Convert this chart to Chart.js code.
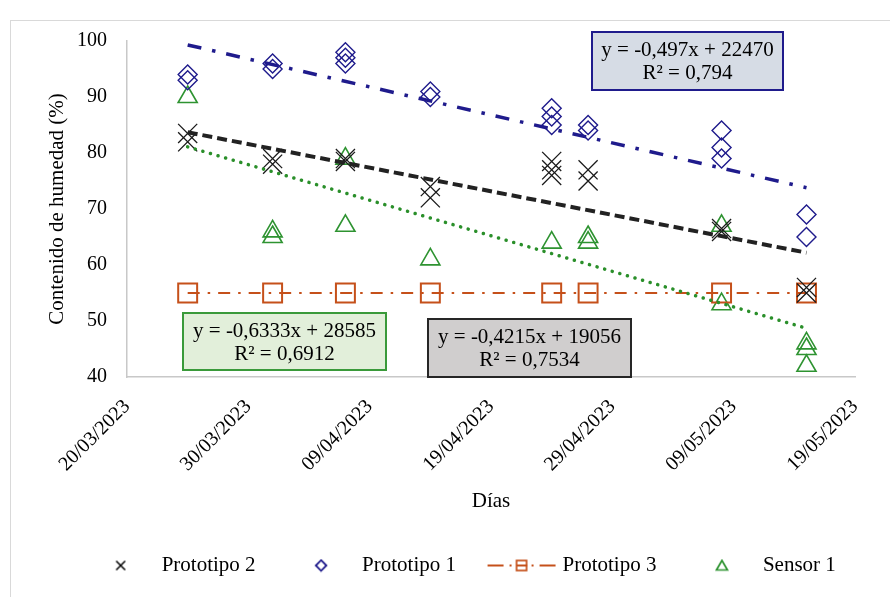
<!DOCTYPE html>
<html>
<head>
<meta charset="utf-8">
<script src="https://cdn.jsdelivr.net/npm/chart.js@4.4.0/dist/chart.umd.min.js"></script>
<style>
body{margin:0;overflow:hidden;background:#fff;}
#marco{position:absolute;left:10px;top:20px;width:1000px;height:1000px;border:1px solid #d9d9d9;}
#grafico{position:absolute;left:0;top:0;}
</style>
</head>
<body>
<div id="marco"></div>
<canvas id="grafico" width="890" height="597"></canvas>
<script>
const inicio = "20/03/2023";
const fin = "19/05/2023";
const fechas = ["25/03/2023","01/04/2023","07/04/2023","14/04/2023","24/04/2023","27/04/2023","08/05/2023","15/05/2023"];

// varios valores por fecha
const prototipo2 = [[83.5,82],[79,78],[79,78.5],[74,72],[78.5,77,76],[77,75],[66.5,66],[56,55]];
const prototipo1 = [[94,93],[96,95],[98,97,96],[91,90],[88,86.5,85],[85,84],[84,81,79],[69,65]];
const prototipo3 = [55,55,55,55,55,55,55,55];
const sensor1 = [[90],[66,65],[79,67],[61],[64],[65,64],[67,53],[46,45,42]];

// lineas de tendencia: valor en la primera y la ultima fecha
const tendencia1 = [99.3,73.8];
const tendencia2 = [83.7,62.2];
const tendenciaS = [81.1,48.7];

const ecuaciones = [
  ["y = -0,497x + 22470","R² = 0,794"],
  ["y = -0,6333x + 28585","R² = 0,6912"],
  ["y = -0,4215x + 19056","R² = 0,7534"]
];

const fuente = '"Liberation Serif", "Times New Roman", serif';
const azul = "#1F1B8C", naranja = "#C5501A", verde = "#2E9331", negro = "#1a1a1a";

function aFecha(f){
  const [d,m,a] = f.split("/").map(Number);
  return Date.UTC(a,m-1,d);
}
function dia(f){
  return Math.round((aFecha(f)-aFecha(inicio))/864e5);
}
function etiqueta(v){
  const d = new Date(aFecha(inicio)+v*864e5);
  const dd = String(d.getUTCDate()).padStart(2,"0");
  const mm = String(d.getUTCMonth()+1).padStart(2,"0");
  return dd+"/"+mm+"/"+d.getUTCFullYear();
}
function puntos(serie){
  return serie.flatMap((vals,i)=>[].concat(vals).map(v=>({x:dia(fechas[i]),y:v})));
}
function recta(t){
  return [{x:dia(fechas[0]),y:t[0]},{x:dia(fechas[fechas.length-1]),y:t[1]}];
}

// iconos pequeños de la leyenda
function icono(w,h,dibujar){
  const c = document.createElement("canvas");
  c.width = w; c.height = h;
  const g = c.getContext("2d");
  dibujar(g,w/2,h/2);
  return c;
}
const iconos = {
  "Prototipo 2": icono(14,14,(g,x,y)=>{
    g.strokeStyle="#000"; g.lineWidth=1.5; g.beginPath();
    g.moveTo(x-4.5,y-4.5); g.lineTo(x+4.5,y+4.5); g.moveTo(x+4.5,y-4.5); g.lineTo(x-4.5,y+4.5); g.stroke();
  }),
  "Prototipo 1": icono(14,14,(g,x,y)=>{
    g.strokeStyle=azul; g.lineWidth=1.8; g.beginPath();
    g.moveTo(x,y-5.3); g.lineTo(x+5.3,y); g.lineTo(x,y+5.3); g.lineTo(x-5.3,y); g.closePath(); g.stroke();
  }),
  "Prototipo 3": icono(70,14,(g,x,y)=>{
    g.strokeStyle=naranja; g.lineWidth=2; g.beginPath();
    g.moveTo(1,y); g.lineTo(17,y); g.moveTo(23,y); g.lineTo(25,y);
    g.moveTo(30,y); g.lineTo(41,y);
    g.moveTo(45,y); g.lineTo(47,y); g.moveTo(53,y); g.lineTo(69,y); g.stroke();
    g.lineWidth=1.7; g.strokeRect(x-5,y-5,10,10);
  }),
  "Sensor 1": icono(14,14,(g,x,y)=>{
    g.strokeStyle=verde; g.lineWidth=1.7; g.beginPath();
    g.moveTo(x,y-5); g.lineTo(x+5.5,y+4.5); g.lineTo(x-5.5,y+4.5); g.closePath(); g.stroke();
  })
};

const cajas = [
  {x:592,y:32,w:191,h:58,fondo:"#D6DCE5",borde:azul},
  {x:183,y:313,w:203,h:57,fondo:"#E2EFDA",borde:"#3A9A3A"},
  {x:428,y:319,w:203,h:58,fondo:"#D0CECE",borde:"#262626"}
];

const etiquetasTendencia = {
  id:"etiquetasTendencia",
  afterDraw(chart){
    const ctx = chart.ctx;
    ctx.save();
    cajas.forEach((c,i)=>{
      ctx.fillStyle=c.fondo; ctx.fillRect(c.x,c.y,c.w,c.h);
      ctx.strokeStyle=c.borde; ctx.lineWidth=2; ctx.strokeRect(c.x,c.y,c.w,c.h);
      ctx.fillStyle="#000"; ctx.font="21px "+fuente;
      ctx.textAlign="center"; ctx.textBaseline="middle";
      ctx.fillText(ecuaciones[i][0],c.x+c.w/2,c.y+18);
      ctx.fillText(ecuaciones[i][1],c.x+c.w/2,c.y+41);
    });
    ctx.restore();
  }
};

const ctx = document.getElementById("grafico");

const chart = new Chart(ctx,{
  type:"scatter",
  data:{
    datasets:[
      {label:"Lineal (Prototipo 1)",data:recta(tendencia1),showLine:true,pointRadius:0,
        borderColor:azul,borderWidth:3.5,borderDash:[14,11,3.5,11],order:0},
      {label:"Lineal (Prototipo 2)",data:recta(tendencia2),showLine:true,pointRadius:0,
        borderColor:"#222",borderWidth:4,borderDash:[10,5],order:0},
      {label:"Lineal (Sensor 1)",data:recta(tendenciaS),showLine:true,pointRadius:0,
        borderColor:"#2A8F2A",borderWidth:3.5,borderDash:[0.1,7.8],borderCapStyle:"round",order:0},
      {label:"Prototipo 2",data:puntos(prototipo2),pointStyle:"crossRot",pointRadius:13.5,
        borderColor:negro,backgroundColor:"rgba(0,0,0,0)",pointBorderWidth:1.3,order:1},
      {label:"Prototipo 1",data:puntos(prototipo1),pointStyle:"rectRot",pointRadius:9.5,
        borderColor:azul,backgroundColor:"rgba(0,0,0,0)",pointBorderWidth:1.4,order:1},
      {label:"Prototipo 3",data:puntos(prototipo3),showLine:true,pointStyle:"rect",pointRadius:13.4,
        borderColor:naranja,backgroundColor:"rgba(0,0,0,0)",borderWidth:2,borderDash:[12,8,2.5,8],
        pointBorderWidth:2,order:1},
      {label:"Sensor 1",data:puntos(sensor1),pointStyle:"triangle",pointRadius:11,
        borderColor:verde,backgroundColor:"rgba(0,0,0,0)",pointBorderWidth:1.6,order:1}
    ]
  },
  options:{
    responsive:false,
    animation:false,
    layout:{padding:{top:41,left:36,right:0,bottom:11}},
    plugins:{
      tooltip:{enabled:false},
      legend:{
        position:"bottom",
        align:"center",
        labels:{
          usePointStyle:true,
          pointStyleWidth:61,
          padding:35,
          color:"#000",
          font:{family:fuente,size:21},
          filter:item=>!item.text.startsWith("Lineal"),
          generateLabels(chart){
            const items = Chart.defaults.plugins.legend.labels.generateLabels(chart);
            items.forEach(it=>{ if(iconos[it.text]) it.pointStyle = iconos[it.text]; });
            return items;
          }
        }
      }
    },
    scales:{
      x:{
        type:"linear",
        min:0,
        max:dia(fin),
        grid:{display:false,drawTicks:false},
        border:{color:"#c8c8c8",width:1.5},
        ticks:{stepSize:10,minRotation:45,maxRotation:45,padding:18,color:"#000",
          font:{family:fuente,size:20},callback:v=>etiqueta(v)},
        title:{display:true,text:"Días",color:"#000",font:{family:fuente,size:21},padding:{top:0,bottom:6}},
        afterFit:s=>{ s.height=143; }
      },
      y:{
        min:40,
        max:100,
        grid:{display:false,drawTicks:false},
        border:{color:"#c8c8c8",width:1.5},
        ticks:{stepSize:10,padding:20,color:"#000",font:{family:fuente,size:20}},
        title:{display:true,text:"Contenido de humedad (%)",color:"#000",font:{family:fuente,size:21},padding:{top:9,bottom:0}},
        afterFit:s=>{ s.width=91; }
      },
      y2:{
        position:"right",
        min:0,
        max:1,
        grid:{display:false,drawTicks:false},
        border:{display:false},
        ticks:{display:false},
        afterFit:s=>{ s.width=34; }
      }
    }
  },
  plugins:[etiquetasTendencia]
});
</script>
</body>
</html>
